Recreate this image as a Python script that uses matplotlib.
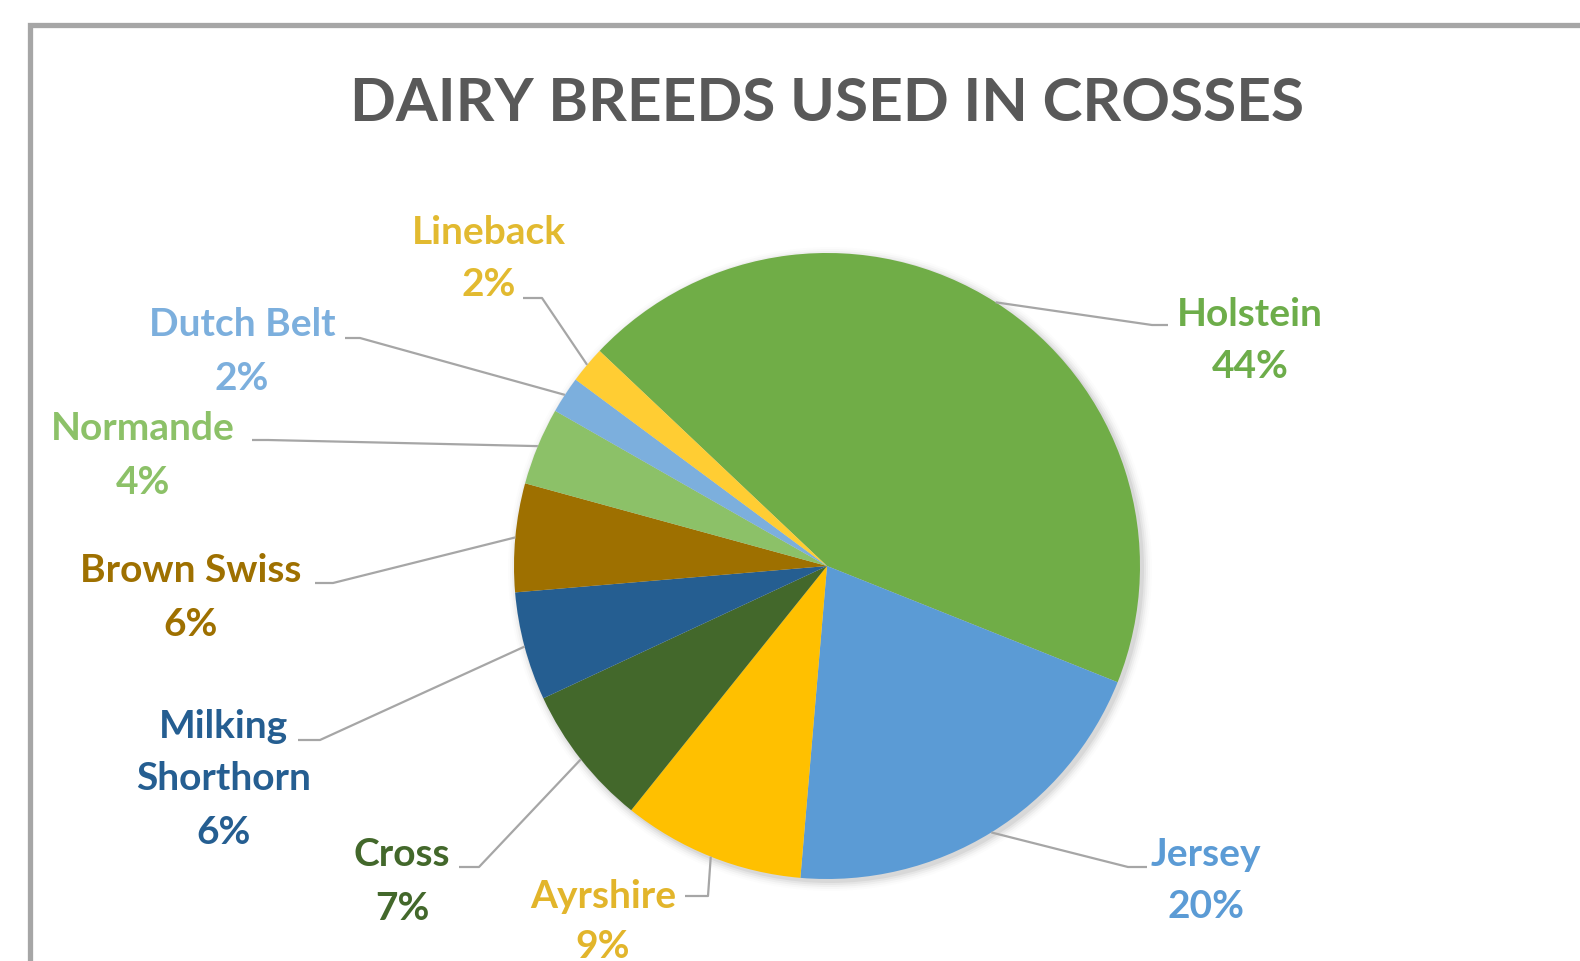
import numpy as np
import matplotlib
matplotlib.use("Agg")
import matplotlib.pyplot as plt
from matplotlib.patches import Circle

# data
breeds = ["Holstein", "Jersey", "Ayrshire", "Cross", "Milking\nShorthorn",
          "Brown Swiss", "Normande", "Dutch Belt", "Lineback"]
shares = [44.0, 20.3, 9.4, 7.3, 5.6, 5.6, 4.0, 1.9, 1.9]
colors = ["#70AD47", "#5B9BD5", "#FFC000", "#43682B", "#255E91",
          "#9E7000", "#8CC168", "#7CAFDD", "#FFCD33"]
label_colors = ["#6DAD4A", "#5B9BD5", "#E2B52B", "#43682B", "#255E91",
                "#9E7000", "#8CC168", "#7CAFDD", "#E2BA30"]
TITLE = "DAIRY BREEDS USED IN CROSSES"

# layout (image pixel coords, y down): label centre x, first line y, pct y,
# and leader path from label end to elbow
W, H = 1580, 961
CX, CY, R = 827, 566, 313
LINE_STEP = 53
label_pos = [(1250, 314, 367), (1206, 854, 906), (603, 896, 946),
             (402, 855, 908), (224, 726, 833), (191, 571, 624),
             (143, 429, 482), (242, 325, 378), (489, 232, 285)]
leader = [((1168, 325), (1152, 325)), ((1147, 867), (1128, 867)),
          ((685, 896), (708, 896)), ((459, 867), (479, 867)),
          ((298, 740), (320, 740)), ((315, 583), (333, 583)),
          ((252, 440), (268, 440)), ((345, 338), (360, 338)),
          ((523, 298), (542, 298))]

FONT = "Lato"
LINE = "#A6A6A6"


def Y(y):
    return H - y


fig = plt.figure(figsize=(W / 100, H / 100), dpi=100)
ax = fig.add_axes([0, 0, 1, 1])

# soft shadow under the pie
for i, a in enumerate([0.05, 0.04, 0.03, 0.02, 0.012]):
    ax.add_patch(Circle((CX + 3, Y(CY) - 3), R + 1 + i * 2, color="black",
                        alpha=a, lw=0, zorder=0))

wedges, _ = ax.pie(shares, colors=colors, startangle=136.6, counterclock=False,
                   center=(CX, Y(CY)), radius=R,
                   wedgeprops=dict(linewidth=0, zorder=1))

total = sum(shares)
for w, name, v, c, (lx, ny, py), (p0, p1) in zip(wedges, breeds, shares,
                                                  label_colors, label_pos, leader):
    th = np.deg2rad((w.theta1 + w.theta2) / 2)
    ex, ey = CX + R * np.cos(th), Y(CY) + R * np.sin(th)
    ax.plot([p0[0], p1[0], ex], [Y(p0[1]), Y(p1[1]), ey], color=LINE, lw=1.6,
            zorder=2, solid_capstyle="butt")
    for k, ln in enumerate(name.split("\n")):
        ax.text(lx, Y(ny + k * LINE_STEP), ln, ha="center", va="center",
                fontsize=28, fontweight="bold", color=c, family=FONT)
    ax.text(lx, Y(py), f"{round(v / total * 100)}%", ha="center", va="center",
            fontsize=28, fontweight="bold", color=c, family=FONT)

ax.text(827, Y(104), TITLE, ha="center", va="center", fontsize=43.5,
        fontweight="bold", color="#595959", family=FONT)

# chart frame (runs off the right and bottom edges)
ax.plot([29.5, 29.5, W + 10], [-10, Y(25), Y(25)], color=LINE, lw=3.8,
        solid_joinstyle="miter", clip_on=False)

ax.set_xlim(0, W)
ax.set_ylim(0, H)
ax.set_aspect("equal")
ax.axis("off")
fig.savefig("out.png", dpi=100)
